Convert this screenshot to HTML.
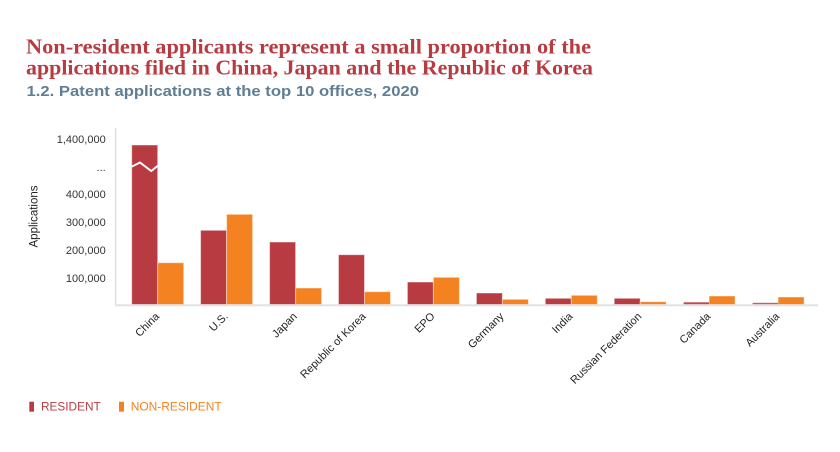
<!DOCTYPE html>
<html>
<head>
<meta charset="utf-8">
<style>
  html,body{margin:0;padding:0;background:#fff;}
  body{width:840px;height:452px;overflow:hidden;}
  svg{display:block;}
  .sans{font-family:"Liberation Sans",Arial,sans-serif;}
  .serif{font-family:"Liberation Serif","Times New Roman",serif;}
</style>
</head>
<body>
<svg width="840" height="452" viewBox="0 0 840 452" xmlns="http://www.w3.org/2000/svg">
  <rect width="840" height="452" fill="#fff"/>
  <!-- Titles -->
  <text class="serif" x="26" y="53.3" font-size="21" font-weight="bold" fill="#b83b41" textLength="565" lengthAdjust="spacingAndGlyphs">Non-resident applicants represent a small proportion of the</text>
  <text class="serif" x="26" y="74.3" font-size="21" font-weight="bold" fill="#b83b41" textLength="567" lengthAdjust="spacingAndGlyphs">applications filed in China, Japan and the Republic of Korea</text>
  <text class="sans" x="26.5" y="96" font-size="15" font-weight="bold" fill="#5f7e95" textLength="392.5" lengthAdjust="spacingAndGlyphs">1.2. Patent applications at the top 10 offices, 2020</text>

  <!-- Y axis title -->
  <text class="sans" transform="translate(37.5,216.5) rotate(-90)" text-anchor="middle" font-size="11.5" fill="#222">Applications</text>

  <!-- Y tick labels -->
  <g class="sans" font-size="11" fill="#333" text-anchor="end">
    <text x="105.7" y="143">1,400,000</text>
    <text x="105.7" y="171">...</text>
    <text x="105.7" y="198">400,000</text>
    <text x="105.7" y="226">300,000</text>
    <text x="105.7" y="254">200,000</text>
    <text x="105.7" y="282">100,000</text>
  </g>

  <!-- Axes -->
  <line x1="115.6" y1="128" x2="115.6" y2="305" stroke="#dcdcdc" stroke-width="1.3"/>

  <!-- Bars -->
  <g stroke="#ffffff" stroke-opacity="0.45" stroke-width="1">
    <!-- China -->
    <rect x="131.7" y="145" width="26" height="159.5" fill="#b83b41"/>
    <rect x="157.7" y="262.7" width="26" height="41.8" fill="#f58220"/>
    <!-- US -->
    <rect x="200.6" y="230.3" width="26" height="74.2" fill="#b83b41"/>
    <rect x="226.6" y="214.3" width="26" height="90.2" fill="#f58220"/>
    <!-- Japan -->
    <rect x="269.6" y="242" width="26" height="62.5" fill="#b83b41"/>
    <rect x="295.6" y="288" width="26" height="16.5" fill="#f58220"/>
    <!-- Korea -->
    <rect x="338.5" y="254.7" width="26" height="49.8" fill="#b83b41"/>
    <rect x="364.5" y="291.7" width="26" height="12.8" fill="#f58220"/>
    <!-- EPO -->
    <rect x="407.4" y="282" width="26" height="22.5" fill="#b83b41"/>
    <rect x="433.4" y="277.3" width="26" height="27.2" fill="#f58220"/>
    <!-- Germany -->
    <rect x="476.4" y="293" width="26" height="11.5" fill="#b83b41"/>
    <rect x="502.4" y="299.3" width="26" height="5.2" fill="#f58220"/>
    <!-- India -->
    <rect x="545.3" y="298.3" width="26" height="6.2" fill="#b83b41"/>
    <rect x="571.3" y="295.3" width="26" height="9.2" fill="#f58220"/>
    <!-- Russia -->
    <rect x="614.2" y="298.3" width="26" height="6.2" fill="#b83b41"/>
    <rect x="640.2" y="301.7" width="26" height="2.8" fill="#f58220"/>
    <!-- Canada -->
    <rect x="709.1" y="296" width="26" height="8.5" fill="#f58220"/>
    <!-- Australia -->
    <rect x="778.1" y="297" width="26" height="7.5" fill="#f58220"/>
  </g>
  <!-- tiny resident bars (no stroke) -->
  <rect x="683.6" y="302.3" width="25.5" height="2" fill="#c4484d"/>
  <rect x="752.6" y="302.8" width="25.5" height="1.5" fill="#cc5a5e"/>

  <!-- Break marker on China bar -->
  <polyline points="131.7,166.6 140,162.5 151.2,171 158,165.6" fill="none" stroke="#ffffff" stroke-width="2"/>

  <!-- Baseline -->
  <rect x="115" y="304.3" width="703" height="2" fill="#e2e2e2"/>

  <!-- Category labels -->
  <g class="sans" font-size="11" fill="#222" text-anchor="end">
    <text transform="translate(160,317) rotate(-45)">China</text>
    <text transform="translate(228.6,317) rotate(-45)">U.S.</text>
    <text transform="translate(297.6,317) rotate(-45)">Japan</text>
    <text transform="translate(366.5,317) rotate(-45)">Republic of Korea</text>
    <text transform="translate(435.4,317) rotate(-45)">EPO</text>
    <text transform="translate(504.4,317) rotate(-45)">Germany</text>
    <text transform="translate(573.3,317) rotate(-45)">India</text>
    <text transform="translate(642.2,317) rotate(-45)">Russian Federation</text>
    <text transform="translate(711.1,317) rotate(-45)">Canada</text>
    <text transform="translate(780.1,317) rotate(-45)">Australia</text>
  </g>

  <!-- Legend -->
  <rect x="29.3" y="401.7" width="4.7" height="10" fill="#b83b41"/>
  <text class="sans" x="41" y="410.6" font-size="12" fill="#b83b41" textLength="59.7" lengthAdjust="spacingAndGlyphs">RESIDENT</text>
  <rect x="119" y="401.7" width="5" height="10" fill="#f58220"/>
  <text class="sans" x="130.7" y="410.6" font-size="12" fill="#f58220" textLength="91" lengthAdjust="spacingAndGlyphs">NON-RESIDENT</text>
</svg>
</body>
</html>
